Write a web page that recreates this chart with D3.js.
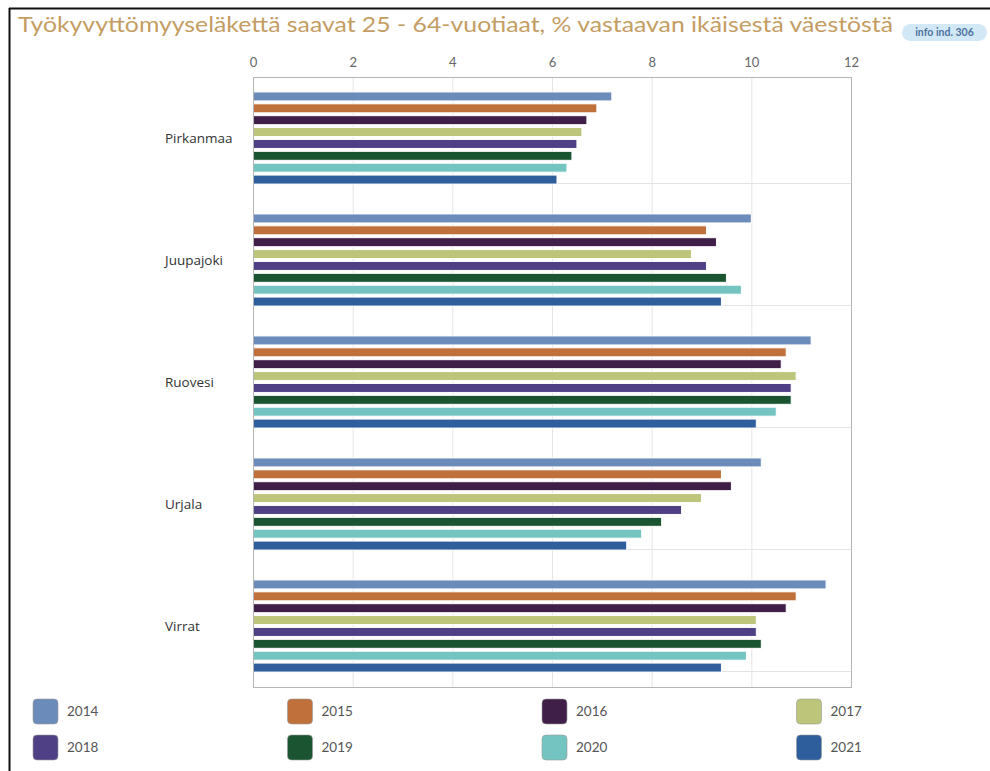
<!DOCTYPE html>
<html><head><meta charset="utf-8">
<script src="https://cdn.jsdelivr.net/npm/d3@7"></script>
<style>body{margin:0;background:#fff}svg{display:block}</style>
</head><body>
<svg id="c" width="990" height="771"></svg>
<script>
const categories = ["Pirkanmaa","Juupajoki","Ruovesi","Urjala","Virrat"];
const years = ["2014","2015","2016","2017","2018","2019","2020","2021"];
const colors = ["#6b8cbb","#c0703a","#3f1e48","#bdc57b","#4f4085","#1a5430","#74c4c1","#2f5e9c"];
const v2014 = [7.2,10.0,11.2,10.2,11.5];
const v2015 = [6.9,9.1,10.7,9.4,10.9];
const v2016 = [6.7,9.3,10.6,9.6,10.7];
const v2017 = [6.6,8.8,10.9,9.0,10.1];
const v2018 = [6.5,9.1,10.8,8.6,10.1];
const v2019 = [6.4,9.5,10.8,8.2,10.2];
const v2020 = [6.3,9.8,10.5,7.8,9.9];
const v2021 = [6.1,9.4,10.1,7.5,9.4];
const seriesValues = [v2014,v2015,v2016,v2017,v2018,v2019,v2020,v2021];
const xTicks = [0,2,4,6,8,10,12];
const title = "Työkyvyttömyyseläkettä saavat 25 - 64-vuotiaat, % vastaavan ikäisestä väestöstä";

const svg = d3.select("#c");
// outer frame
svg.append("line").attr("x1",9.5).attr("x2",9.5).attr("y1",8).attr("y2",771).attr("stroke","#111").attr("stroke-width",2);
svg.append("line").attr("x1",9).attr("x2",990).attr("y1",8.5).attr("y2",8.5).attr("stroke","#111").attr("stroke-width",2);

// title
svg.append("text").attr("x",18).attr("y",32).text(title)
  .attr("font-family","Lato, sans-serif").attr("font-size",22).attr("fill","#c49d63")
  .attr("textLength",875).attr("lengthAdjust","spacingAndGlyphs");
svg.append("rect").attr("x",902).attr("y",24).attr("width",85).attr("height",17).attr("rx",8.5).attr("fill","#d3e8f6");
svg.append("text").attr("x",944.5).attr("y",36).attr("text-anchor","middle").text("info ind. 306")
  .attr("font-family","Lato, sans-serif").attr("font-size",10.5).attr("font-weight","bold").attr("fill","#4b73a0");

const L=253, R=851, T=77, B=687;
const x = d3.scaleLinear().domain([0,12]).range([L,R]);
const y0 = d3.scaleBand().domain(categories).range([T,B]);
const bw = y0.bandwidth();
const y1 = d3.scaleBand().domain(years).range([13.5, bw-13.5]);

const g = svg.append("g");
// vertical grid
g.selectAll(".vg").data(xTicks).join("line").attr("x1",d=>x(d)+0.5).attr("x2",d=>x(d)+0.5)
  .attr("y1",T).attr("y2",B).attr("stroke","#e4e4e4");
// horizontal grid
g.selectAll(".hg").data(categories).join("line").attr("x1",L).attr("x2",R)
  .attr("y1",d=>Math.round(y0(d)+bw-16)+0.5).attr("y2",d=>Math.round(y0(d)+bw-16)+0.5).attr("stroke","#e4e4e4");

// bars
years.forEach((yr,i)=>{
  g.selectAll(".b"+yr).data(seriesValues[i]).join("rect")
    .attr("x",L).attr("y",(d,j)=>y0(categories[j])+y1(yr)+y1.bandwidth()/2-4.5)
    .attr("width",d=>x(d)-L).attr("height",9)
    .attr("fill",colors[i]).attr("stroke","#ffffff").attr("stroke-width",1);
});

// frame
g.append("rect").attr("x",L+0.5).attr("y",T+0.5).attr("width",R-L).attr("height",B-T)
  .attr("fill","none").attr("stroke","#b5b5b5");

// top axis
const ax = svg.append("g").attr("transform",`translate(0,${T})`)
  .call(d3.axisTop(x).tickValues(xTicks).tickSize(0).tickPadding(10));
ax.select(".domain").remove();
ax.selectAll("text").attr("font-family","Lato, sans-serif").attr("font-size",13).attr("fill","#666");

// category labels
svg.selectAll(".cl").data(categories).join("text").attr("x",165).attr("y",d=>y0(d)+bw/2+5)
  .text(d=>d).attr("font-family","'Open Sans', sans-serif").attr("font-size",13.5).attr("fill","#333");

// legend
const lg = svg.selectAll(".lg").data(years).join("g")
  .attr("transform",(d,i)=>`translate(${33+(i%4)*254.5},${699+Math.floor(i/4)*36})`);
lg.append("rect").attr("width",25).attr("height",25).attr("rx",4)
  .attr("fill",(d,i)=>colors[i]).attr("stroke","#999").attr("stroke-opacity",0.6);
lg.append("text").attr("x",34).attr("y",17).text(d=>d)
  .attr("font-family","Lato, sans-serif").attr("font-size",13.5).attr("fill","#555");
</script>
</body></html>
